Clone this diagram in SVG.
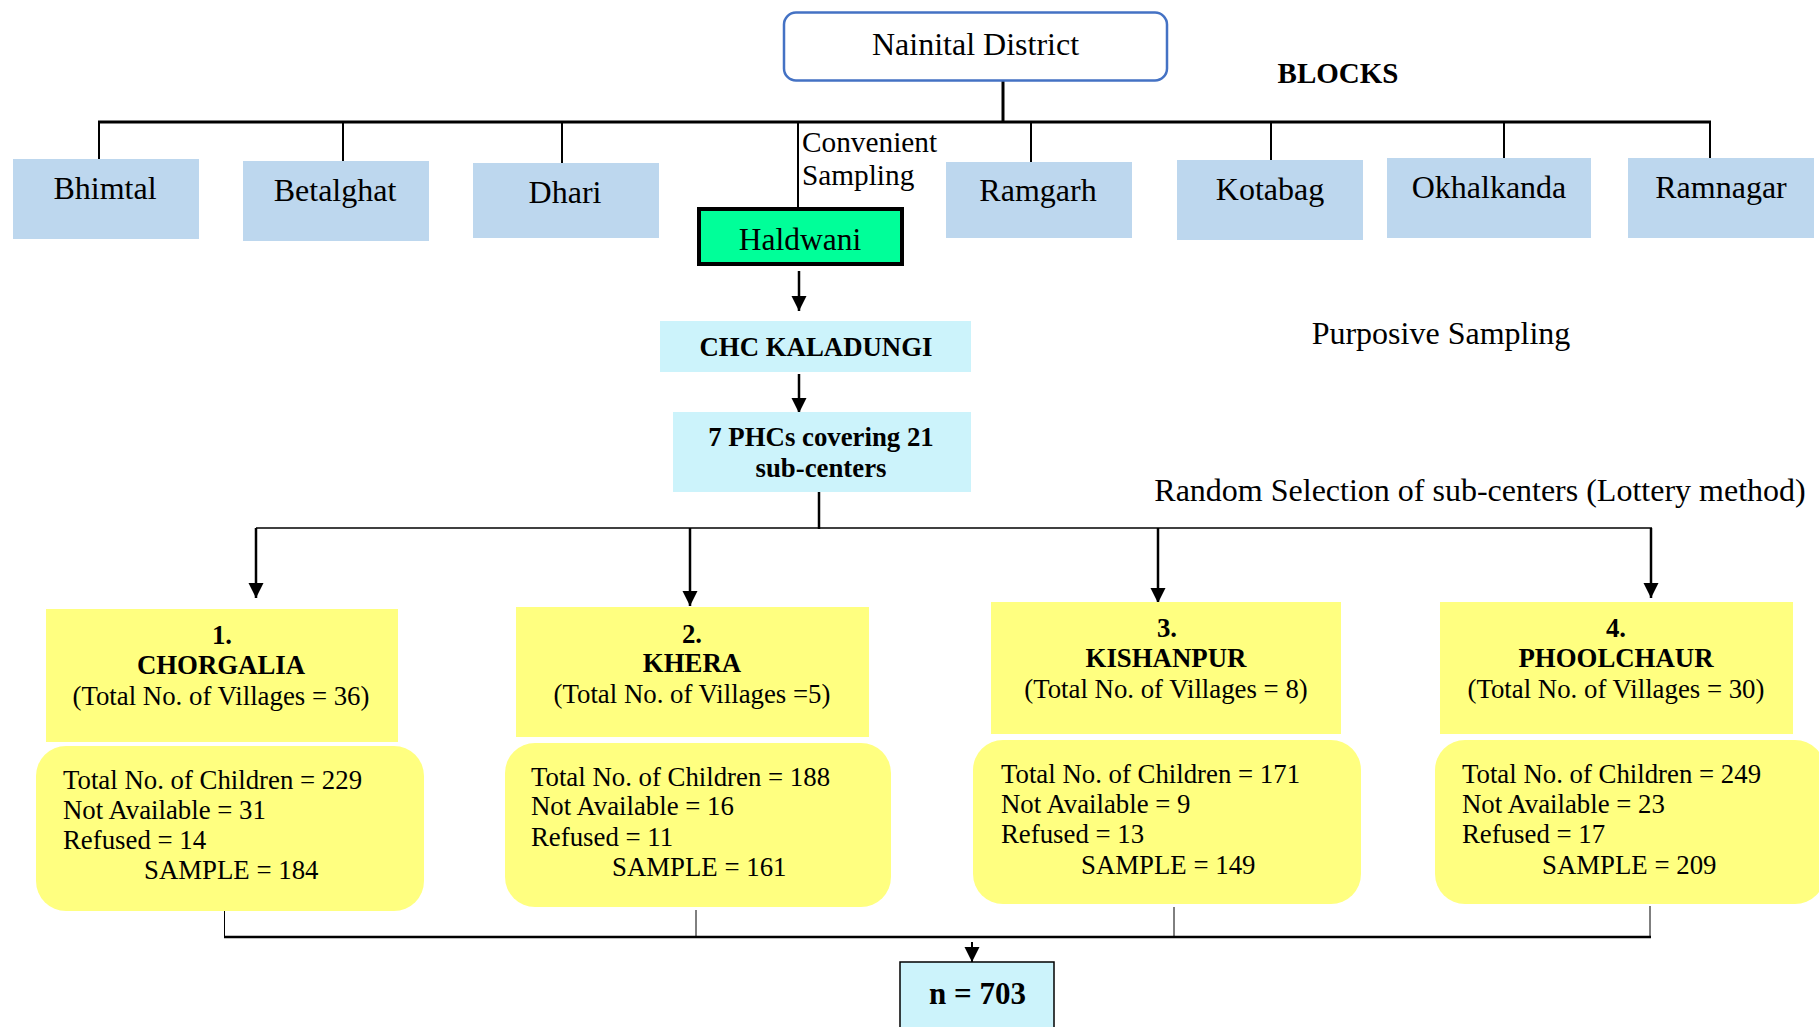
<svg xmlns="http://www.w3.org/2000/svg" width="1819" height="1027" viewBox="0 0 1819 1027">
<style>
text{font-family:"Liberation Serif","Times New Roman",serif;fill:#000}
.blk{fill:#BDD7EE}
.bt{font-size:32px;text-anchor:middle}
.cy{fill:#CCF3FB}
.ye{fill:#FFFF80}
.b{font-weight:bold}
.s26{font-size:26.5px}
.s27{font-size:26.8px}
.mid{text-anchor:middle}
.ln{stroke:#000;fill:none}
</style>
<defs>
<marker id="ah" markerUnits="userSpaceOnUse" markerWidth="15" markerHeight="16" refX="15" refY="7.5" orient="auto" viewBox="0 0 15 15">
<path d="M0,0 L15,7.5 L0,15 z" fill="#000"/>
</marker>
</defs>
<rect width="1819" height="1027" fill="#fff"/>

<g id="connectors">
<line class="ln" x1="1003" y1="81" x2="1003" y2="122" stroke-width="3"/>
<line class="ln" x1="98" y1="122" x2="1711" y2="122" stroke-width="3"/>
<line class="ln" x1="99" y1="122" x2="99" y2="159" stroke-width="2"/>
<line class="ln" x1="343" y1="122" x2="343" y2="161" stroke-width="2"/>
<line class="ln" x1="562" y1="122" x2="562" y2="163" stroke-width="2"/>
<line class="ln" x1="798" y1="122" x2="798" y2="207" stroke-width="2"/>
<line class="ln" x1="1031" y1="122" x2="1031" y2="162" stroke-width="2"/>
<line class="ln" x1="1271" y1="122" x2="1271" y2="160" stroke-width="2"/>
<line class="ln" x1="1504" y1="122" x2="1504" y2="158" stroke-width="2"/>
<line class="ln" x1="1710" y1="122" x2="1710" y2="158" stroke-width="2"/>
<line class="ln" x1="799" y1="271" x2="799" y2="311" stroke-width="2.5" marker-end="url(#ah)"/>
<line class="ln" x1="799" y1="374" x2="799" y2="413" stroke-width="2.5" marker-end="url(#ah)"/>
<line class="ln" x1="819" y1="492" x2="819" y2="529" stroke-width="2.5"/>
<line class="ln" x1="256" y1="528" x2="1652" y2="528" stroke-width="1.5"/>
<line class="ln" x1="256" y1="528" x2="256" y2="598" stroke-width="2.5" marker-end="url(#ah)"/>
<line class="ln" x1="690" y1="528" x2="690" y2="606" stroke-width="2.5" marker-end="url(#ah)"/>
<line class="ln" x1="1158" y1="528" x2="1158" y2="603" stroke-width="2.5" marker-end="url(#ah)"/>
<line class="ln" x1="1651" y1="528" x2="1651" y2="598" stroke-width="2.5" marker-end="url(#ah)"/>
<line class="ln" x1="224.5" y1="911" x2="224.5" y2="937" stroke-width="1"/>
<line class="ln" x1="696" y1="910" x2="696" y2="937" stroke-width="1"/>
<line class="ln" x1="1174" y1="907" x2="1174" y2="937" stroke-width="1"/>
<line class="ln" x1="1650" y1="906" x2="1650" y2="937" stroke-width="1"/>
<line class="ln" x1="224" y1="937" x2="1651" y2="937" stroke-width="2.5"/>
<line class="ln" x1="972" y1="942" x2="972" y2="962" stroke-width="2" marker-end="url(#ah)"/>
</g>

<g id="nainital">
<rect x="784" y="12.5" width="383" height="68" rx="12" fill="#fff" stroke="#4472C4" stroke-width="2.5"/>
<text x="975.5" y="55" class="mid" font-size="32">Nainital District</text>
</g>
<g id="blocks-label"><text x="1338" y="83" class="b mid" font-size="29">BLOCKS</text></g>

<g id="bhimtal"><rect class="blk" x="13" y="159" width="186" height="80"/><text class="bt" x="105" y="199">Bhimtal</text></g>
<g id="betalghat"><rect class="blk" x="243" y="161" width="186" height="80"/><text class="bt" x="335" y="201">Betalghat</text></g>
<g id="dhari"><rect class="blk" x="473" y="163" width="186" height="75"/><text class="bt" x="565" y="203">Dhari</text></g>
<g id="ramgarh"><rect class="blk" x="946" y="162" width="186" height="76"/><text class="bt" x="1038" y="201">Ramgarh</text></g>
<g id="kotabag"><rect class="blk" x="1177" y="160" width="186" height="80"/><text class="bt" x="1270" y="200">Kotabag</text></g>
<g id="okhalkanda"><rect class="blk" x="1387" y="158" width="204" height="80"/><text class="bt" x="1489" y="198">Okhalkanda</text></g>
<g id="ramnagar"><rect class="blk" x="1628" y="158" width="186" height="80"/><text class="bt" x="1721" y="198">Ramnagar</text></g>

<g id="convenient-label">
<text x="802" y="152" font-size="29.3">Convenient</text>
<text x="802" y="185" font-size="29.3">Sampling</text>
</g>

<g id="haldwani">
<rect x="699" y="209" width="203" height="55" fill="#00FF99" stroke="#000" stroke-width="4"/>
<text x="800" y="250" class="mid" font-size="31.5">Haldwani</text>
</g>

<g id="chc">
<rect class="cy" x="660" y="321" width="311" height="51"/>
<text x="816" y="356" class="b mid s27">CHC KALADUNGI</text>
</g>

<g id="purposive-label"><text x="1441" y="344" class="mid" font-size="32">Purposive Sampling</text></g>

<g id="phc">
<rect class="cy" x="673" y="412" width="298" height="80"/>
<text x="821" y="446" class="b mid s27">7 PHCs covering 21</text>
<text x="821" y="477" class="b mid s27">sub-centers</text>
</g>

<g id="random-label"><text x="1480" y="501" class="mid" font-size="32">Random Selection of sub-centers (Lottery method)</text></g>

<g id="chorgalia">
<rect class="ye" x="46" y="609" width="352" height="133"/>
<text x="222" y="644" class="b mid s27">1.</text>
<text x="221" y="674" class="b mid s27">CHORGALIA</text>
<text x="221" y="705" class="mid s27">(Total No. of Villages = 36)</text>
<rect class="ye" x="36" y="746" width="388" height="165" rx="30"/>
<text x="63" y="789" class="s27">Total No. of Children = 229</text>
<text x="63" y="819" class="s27">Not Available = 31</text>
<text x="63" y="849" class="s27">Refused = 14</text>
<text x="144" y="879" class="s27">SAMPLE = 184</text>
</g>

<g id="khera">
<rect class="ye" x="516" y="607" width="353" height="130"/>
<text x="692" y="643" class="b mid s27">2.</text>
<text x="692" y="672" class="b mid s27">KHERA</text>
<text x="692" y="703" class="mid s27">(Total No. of Villages =5)</text>
<rect class="ye" x="505" y="743" width="386" height="164" rx="30"/>
<text x="531" y="786" class="s27">Total No. of Children = 188</text>
<text x="531" y="815" class="s27">Not Available = 16</text>
<text x="531" y="846" class="s27">Refused = 11</text>
<text x="612" y="876" class="s27">SAMPLE = 161</text>
</g>

<g id="kishanpur">
<rect class="ye" x="991" y="602" width="350" height="132"/>
<text x="1167" y="637" class="b mid s27">3.</text>
<text x="1166" y="667" class="b mid s27">KISHANPUR</text>
<text x="1166" y="698" class="mid s27">(Total No. of Villages = 8)</text>
<rect class="ye" x="973" y="740" width="388" height="164" rx="30"/>
<text x="1001" y="783" class="s27">Total No. of Children = 171</text>
<text x="1001" y="813" class="s27">Not Available = 9</text>
<text x="1001" y="843" class="s27">Refused = 13</text>
<text x="1081" y="874" class="s27">SAMPLE = 149</text>
</g>

<g id="phoolchaur">
<rect class="ye" x="1440" y="602" width="353" height="132"/>
<text x="1616" y="637" class="b mid s27">4.</text>
<text x="1616" y="667" class="b mid s27">PHOOLCHAUR</text>
<text x="1616" y="698" class="mid s27">(Total No. of Villages = 30)</text>
<rect class="ye" x="1435" y="740" width="390" height="164" rx="30"/>
<text x="1462" y="783" class="s27">Total No. of Children = 249</text>
<text x="1462" y="813" class="s27">Not Available = 23</text>
<text x="1462" y="843" class="s27">Refused = 17</text>
<text x="1542" y="874" class="s27">SAMPLE = 209</text>
</g>

<g id="total">
<rect class="cy" x="900" y="962" width="154" height="80" stroke="#000" stroke-width="1.5"/>
<text x="977.5" y="1004" class="b mid" font-size="31">n = 703</text>
</g>
</svg>
